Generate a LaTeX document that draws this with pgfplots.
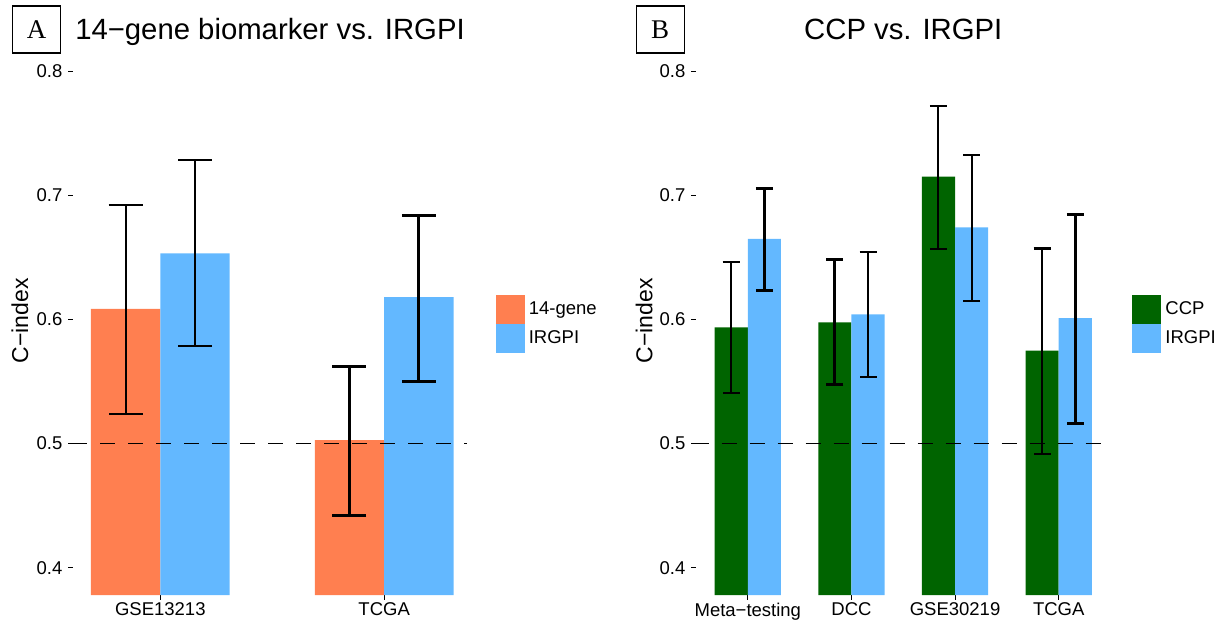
\documentclass[border=0pt]{standalone}
\usepackage{pgfplots}
\pgfplotsset{compat=1.18}
\usepackage{fontspec}
\setmainfont{Liberation Sans}
\newfontfamily\boxfont{Liberation Serif}
\definecolor{coralc}{RGB}{255,127,80}
\definecolor{bluec}{RGB}{99,184,255}
\definecolor{greenc}{RGB}{0,100,0}
\newcommand{\tickfont}{\fontsize{18.5}{22}\selectfont}
\pgfplotsset{
  panel/.style={
    scale only axis,
    anchor=south west,
    height=548.5pt,
    ymin=0.378, ymax=0.82,
    clip=true,
    axis lines*=left,
    axis line style={draw=none},
    tick align=outside,
    major tick length=4.6pt,
    tick style={black, line width=1pt},
    ytick={0.4,0.5,0.6,0.7,0.8},
    /pgf/number format/assume math mode=true,
    /pgf/number format/fixed,
    /pgf/number format/fixed zerofill,
    /pgf/number format/precision=1,
    yticklabel style={font=\tickfont, inner sep=0pt, xshift=-5.8pt},
    xticklabel style={font=\tickfont, inner sep=0pt, yshift=-3pt},
    every axis title/.style={at={(0.5,1)}, anchor=base, yshift=6.5pt, font=\fontsize{29.3}{34}\selectfont},
    legend cell align=left,
  },
  eb/.style n args={2}{draw=none, mark=none, forget plot,
    error bars/.cd, y dir=both, y explicit,
    error bar style={draw=black, line width=#1, line cap=butt},
    error mark options={draw=black, line width=#1, rotate=90, mark size=#2}},
  leg/.style={legend image code/.code={\fill[#1] (0pt,-14pt) rectangle (28pt,14pt);}},
}
\begin{document}
\begin{tikzpicture}
\useasboundingbox (0,0) rectangle (1220pt,624pt);
% Panel A
\begin{axis}[panel, at={(73pt,29pt)}, width=394pt,
  xmin=0.61, xmax=2.37,
  xtick={1,2}, xticklabels={GSE13213,TCGA},
  title={14−gene biomarker vs. IRGPI},
  ylabel={C−index},
  every axis y label/.style={at={(-0.1345,0.5)}, rotate=90, anchor=center, font=\fontsize{23}{26}\selectfont},
  legend style={at={(1,0.495)}, anchor=west, xshift=28.5pt, draw=none, fill=none, inner sep=0pt, row sep=1pt, column sep=4.7pt, font=\tickfont, nodes={inner sep=0pt}},
]
\addplot[ybar, bar width=0.31, bar shift=-0.155, fill=coralc, draw=none, forget plot] coordinates {(1,0.6085) (2,0.5029)};
\addplot[ybar, bar width=0.31, bar shift=0.155, fill=bluec, draw=none, forget plot] coordinates {(1,0.6533) (2,0.6181)};
\addplot[black, line width=1pt, dash pattern=on 15pt off 13pt, dash phase=1pt, forget plot] coordinates {(0.61,0.5) (2.37,0.5)};
\addplot[eb={2pt}{17pt}] coordinates {(0.845,0.6085) += (0,0.0840) -= (0,0.0847)};
\addplot[eb={2pt}{17pt}] coordinates {(1.155,0.6533) += (0,0.0750) -= (0,0.0749)};
\addplot[eb={3pt}{17pt}] coordinates {(1.845,0.5029) += (0,0.0594) -= (0,0.0612)};
\addplot[eb={3pt}{17pt}] coordinates {(2.155,0.6181) += (0,0.0659) -= (0,0.0677)};
\addlegendimage{leg=coralc}\addlegendentry{14-gene}
\addlegendimage{leg=bluec}\addlegendentry{IRGPI}
\end{axis}
% Panel B
\begin{axis}[panel, at={(696pt,29pt)}, width=414.5pt,
  xmin=0.5, xmax=4.5,
  xtick={1,2,3,4}, xticklabels={Meta−testing,DCC,GSE30219,TCGA},
  title={CCP vs. IRGPI},
  ylabel={C−index},
  every axis y label/.style={at={(-0.1254,0.5)}, rotate=90, anchor=center, font=\fontsize{23}{26}\selectfont},
  legend style={at={(1,0.495)}, anchor=west, xshift=21.6pt, draw=none, fill=none, inner sep=0pt, row sep=1pt, column sep=4.7pt, font=\tickfont, nodes={inner sep=0pt}},
]
\addplot[ybar, bar width=0.32, bar shift=-0.16, fill=greenc, draw=none, forget plot] coordinates {(1,0.5937) (2,0.5977) (3,0.7151) (4,0.5749)};
\addplot[ybar, bar width=0.32, bar shift=0.16, fill=bluec, draw=none, forget plot] coordinates {(1,0.6649) (2,0.6042) (3,0.6743) (4,0.6012)};
\addplot[black, line width=1pt, dash pattern=on 15pt off 13pt, dash phase=2.3pt, forget plot] coordinates {(0.5,0.5) (4.5,0.5)};
\addplot[eb={2pt}{8.5pt}] coordinates {(0.84,0.5937) += (0,0.0526) -= (0,0.0527)};
\addplot[eb={3pt}{8.5pt}] coordinates {(1.16,0.6649) += (0,0.0405) -= (0,0.0417)};
\addplot[eb={3pt}{8.5pt}] coordinates {(1.84,0.5977) += (0,0.0508) -= (0,0.0497)};
\addplot[eb={2.3pt}{8.5pt}] coordinates {(2.16,0.6042) += (0,0.0504) -= (0,0.0505)};
\addplot[eb={2pt}{8.5pt}] coordinates {(2.84,0.7151) += (0,0.0567) -= (0,0.0581)};
\addplot[eb={2pt}{8.5pt}] coordinates {(3.16,0.6743) += (0,0.0580) -= (0,0.0594)};
\addplot[eb={2.3pt}{8.5pt}] coordinates {(3.84,0.5749) += (0,0.0824) -= (0,0.0833)};
\addplot[eb={3pt}{8.5pt}] coordinates {(4.16,0.6012) += (0,0.0832) -= (0,0.0848)};
\addlegendimage{leg=greenc}\addlegendentry{CCP}
\addlegendimage{leg=bluec}\addlegendentry{IRGPI}
\end{axis}
% panel letters
\node[draw, line width=1.3pt, minimum width=48pt, minimum height=47pt, inner sep=0pt, font=\boxfont\fontsize{27}{30}\selectfont] at (36.5pt,594.5pt) {A};
\node[draw, line width=1.3pt, minimum width=48pt, minimum height=47pt, inner sep=0pt, font=\boxfont\fontsize{27}{30}\selectfont] at (660.2pt,594.5pt) {B};
\end{tikzpicture}
\end{document}
